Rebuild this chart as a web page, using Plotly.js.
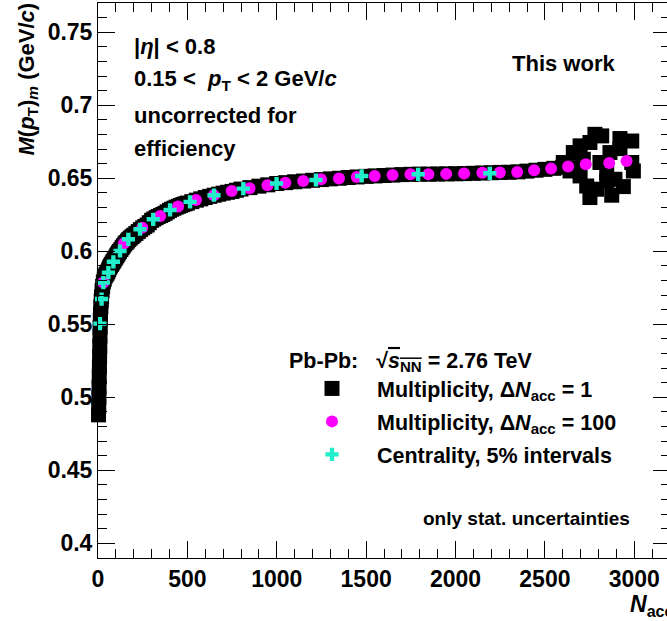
<!DOCTYPE html>
<html>
<head>
<meta charset="utf-8">
<script src="https://cdn.plot.ly/plotly-3.0.1.min.js"></script>
<style>
html,body{margin:0;padding:0;overflow:hidden;background:#fff;}
#chart{width:671px;height:621px;}
</style>
</head>
<body>
<div id="chart"></div>
<script>
// ΔN_acc = 1 (multiplicity) – band read along the picture, then the scattered high-N points
const nAccFine = [3,4,5,6,7,8,9,10,11,12,13,14,16,18,20,23,26,30,35,40,45,50,55,60,65,70,75,80,85,90,95,100,105,110,115,120,128,135,142,150,157,165,172,180,190,200,212,225,237,250,262,275,287,300,312,325,337,350,362,375,387,400,412,425,437,450,462,475,487,500,525,550,575,600,625,650,675,700,725,750,775,800,850,900,950,1000,1050,1100,1150,1200,1250,1300,1350,1400,1450,1500,1550,1600,1650,1700,1750,1800,1850,1900,1950,2000,2050,2100,2150,2200,2250,2300,2350,2400,2450,2500,2550,2600,
  2603,2641,2659,2678,2697,2697,2715,2734,2752,2752,2780,2790,2808,2818,2846,2846,2864,2874,2892,2920,2920,2939,2986,2986,2995];
const meanPtFine = [0.488,0.494,0.500,0.507,0.514,0.521,0.528,0.535,0.542,0.548,0.553,0.557,0.562,0.566,0.569,0.573,0.576,0.579,0.581,0.583,0.584,0.585,0.586,0.5875,0.589,0.590,0.591,0.592,0.593,0.594,0.595,0.596,0.597,0.598,0.599,0.600,0.6012,0.6025,0.6037,0.605,0.606,0.607,0.608,0.609,0.610,0.611,0.6122,0.6135,0.6148,0.616,0.617,0.618,0.6196,0.6212,0.6221,0.623,0.6238,0.6245,0.6252,0.626,0.627,0.628,0.6288,0.6295,0.6302,0.6308,0.6314,0.632,0.6325,0.633,0.634,0.635,0.6359,0.6368,0.6376,0.6384,0.6391,0.6398,0.6404,0.641,0.6418,0.6426,0.6436,0.6446,0.6455,0.6464,0.647,0.6476,0.6481,0.6486,0.6491,0.6496,0.650,0.6505,0.6509,0.6513,0.6516,0.6519,0.6522,0.6525,0.6527,0.6528,0.6528,0.6529,0.653,0.6531,0.6532,0.6534,0.6536,0.6538,0.654,0.6541,0.6544,0.6549,0.6555,0.6561,0.6568,0.6575,
  0.6608,0.655,0.6676,0.6573,0.6722,0.6516,0.663,0.6447,0.6745,0.6368,0.6801,0.6425,0.6608,0.679,0.6539,0.6482,0.6676,0.6384,0.6493,0.6772,0.6703,0.6443,0.6755,0.6608,0.655];

// ΔN_acc = 100 (multiplicity)
const nAccBin100 = [30,145,248,348,448,548,648,748,848,948,1048,1148,1248,1348,1448,1548,1648,1748,1848,1948,2048,2150,2248,2345,2440,2535,2630,2729,2860,2957];
const meanPtBin100 = [0.5786,0.6053,0.6162,0.6242,0.6306,0.6351,0.6384,0.6413,0.6432,0.6452,0.6470,0.6482,0.6493,0.6499,0.6509,0.6516,0.6523,0.6527,0.6527,0.6530,0.6532,0.6537,0.6539,0.6543,0.6555,0.6566,0.6580,0.6596,0.6605,0.6618];

// Centrality, 5% intervals
const nAccCent = [11,20,30,58,86,123,170,235,309,403,515,649,813,999,1219,1475,1791,2192];
const meanPtCent = [0.5505,0.5673,0.5786,0.5854,0.5928,0.6002,0.6082,0.6151,0.6219,0.6283,0.6338,0.6384,0.6429,0.6464,0.6488,0.6516,0.6527,0.6534];

const legendNames = [
  'Multiplicity, Δ<i>N</i><sub>acc</sub> = 1',
  'Multiplicity, Δ<i>N</i><sub>acc</sub> = 100',
  'Centrality, 5% intervals'
];

const FONT = 'Liberation Sans, Arial, Helvetica, sans-serif';
// plot frame in pixels
const L = 98, R = 670, T = 3, B = 558;
const px = x => (x - L) / (R - L);
const py = y => (B - y) / (B - T);

const traces = [
  {x: nAccFine, y: meanPtFine, type: 'scatter', mode: 'markers', name: legendNames[0], legendgroup: 'a',
   cliponaxis: false,
   marker: {symbol: 'square', size: 15, color: '#000000', line: {width: 0}}},
  {x: nAccBin100, y: meanPtBin100, type: 'scatter', mode: 'markers', name: legendNames[1], legendgroup: 'b',
   cliponaxis: false,
   marker: {symbol: 'circle', size: 12, color: '#ff00ff', line: {width: 0}}},
  {x: nAccCent, y: meanPtCent, type: 'scatter', mode: 'markers', name: legendNames[2], legendgroup: 'c',
   cliponaxis: false,
   marker: {symbol: 'cross', size: 11, color: '#22eecc', line: {width: 0}}}
];

const ann = (text, x, y, size, xanchor, extra) => Object.assign({
  text: text, xref: 'paper', yref: 'paper', x: px(x), y: py(y), xanchor: xanchor || 'left', yanchor: 'middle',
  showarrow: false, font: {family: FONT, size: size, color: '#000', weight: 'bold'}
}, extra || {});

const layout = {
  width: 671, height: 621,
  margin: {l: L, r: 671 - R, t: T, b: 621 - B},
  paper_bgcolor: '#fff', plot_bgcolor: '#fff',
  font: {family: FONT, size: 22, color: '#000', weight: 'bold'},
  showlegend: true,
  legend: {
    x: px(287), y: py(340), xanchor: 'left', yanchor: 'top',
    bgcolor: 'rgba(0,0,0,0)', borderwidth: 0,
    font: {family: FONT, size: 21.5, color: '#000', weight: 'bold'},
    itemwidth: 80, tracegroupgap: 2, itemsizing: 'trace',
    title: {text: 'Pb-Pb:   √<span style="text-decoration:overline"><i>s</i><sub>NN</sub></span> = 2.76 TeV',
            font: {family: FONT, size: 21.5, color: '#000', weight: 'bold'}}
  },
  xaxis: {
    range: [0, 3200], showgrid: false, zeroline: false,
    showline: true, linecolor: '#000', linewidth: 1, mirror: 'allticks',
    ticks: 'inside', ticklen: 17, tickwidth: 1, tickcolor: '#000',
    tickmode: 'linear', tick0: 0, dtick: 500,
    minor: {ticks: 'inside', ticklen: 9, tickwidth: 1, tickcolor: '#000', dtick: 100, tick0: 0, showgrid: false},
    tickfont: {family: FONT, size: 23, color: '#000', weight: 'bold'}
  },
  yaxis: {
    range: [0.39, 0.77], showgrid: false, zeroline: false,
    showline: true, linecolor: '#000', linewidth: 1, mirror: 'allticks',
    ticks: 'inside', ticklen: 17, tickwidth: 1, tickcolor: '#000',
    tickmode: 'linear', tick0: 0.4, dtick: 0.05,
    minor: {ticks: 'inside', ticklen: 9, tickwidth: 1, tickcolor: '#000', dtick: 0.01, tick0: 0.4, showgrid: false},
    tickfont: {family: FONT, size: 23, color: '#000', weight: 'bold'}
  },
  annotations: [
    ann('|<i>η</i>| < 0.8', 132, 47, 22),
    ann('0.15 <  <i>p</i><sub>T</sub> < 2 GeV/<i>c</i>', 132, 80, 22),
    ann('uncorrected for', 132, 115, 22),
    ann('efficiency', 132, 148, 22),
    ann('This work', 617, 63, 22, 'right'),
    ann('only stat. uncertainties', 632, 518, 19, 'right'),
    ann('<i>N</i><sub>acc</sub>', 676, 605, 23, 'right'),
    {text: '<i>M</i>(<i>p</i><sub>T</sub>)<sub><i>m</i></sub> (GeV/<i>c</i>)', textangle: -90,
     xref: 'paper', yref: 'paper', x: px(27), y: 1 + (T - 1) / (B - T), xanchor: 'center', yanchor: 'top',
     showarrow: false, font: {family: FONT, size: 22, color: '#000', weight: 'bold'}}
  ]
};

Plotly.newPlot('chart', traces, layout, {displayModeBar: false, staticPlot: true});
</script>
</body>
</html>
